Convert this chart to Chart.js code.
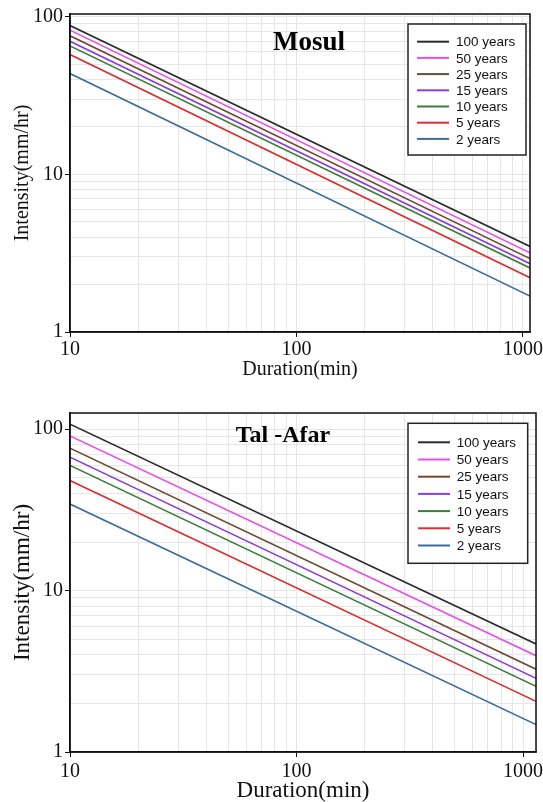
<!DOCTYPE html>
<html>
<head>
<meta charset="utf-8">
<title>IDF curves - Mosul and Tal-Afar</title>
<script src="https://cdn.jsdelivr.net/npm/chart.js@4.4.2/dist/chart.umd.min.js"></script>
<style>
  html, body { margin: 0; padding: 0; background: #fff; }
  canvas { position: absolute; left: 0; }
  #mosul { top: 0; }
  #talafar { top: 398px; }
</style>
</head>
<body>
<canvas id="mosul" width="543" height="392"></canvas>
<canvas id="talafar" width="543" height="404"></canvas>
<script>
// Return periods, in the order of the legend
const returnPeriods = ['100 years', '50 years', '25 years', '15 years', '10 years', '5 years', '2 years'];
const lineColors = ['#2b2b2b', '#e84ee8', '#6e4a32', '#8a3fd8', '#3b7d3b', '#d93030', '#3a6c9c'];

// Mosul : intensity (mm/hr) read at both ends of each line
const mosulDurations = [10, 1075];
const mosul100 = [87.8, 3.49];
const mosul50 = [82.2, 3.18];
const mosul25 = [75.6, 2.92];
const mosul15 = [69.8, 2.71];
const mosul10 = [65.2, 2.55];
const mosul5 = [57.5, 2.21];
const mosul2 = [43.6, 1.69];

// Tal-Afar
const talafarDurations = [10, 1141];
const talafar100 = [107.4, 4.67];
const talafar50 = [90.9, 3.95];
const talafar25 = [76.3, 3.26];
const talafar15 = [67.1, 2.86];
const talafar10 = [59.6, 2.55];
const talafar5 = [48.1, 2.06];
const talafar2 = [34.4, 1.48];

// labelled ticks
const xTickLabels = [10, 100, 1000];
const yTickLabels = [1, 10, 100];

const serif = "'Liberation Serif', 'Times New Roman', serif";
const sans = "'Liberation Sans', Arial, sans-serif";

// draws the frame, the title inside the plot and the boxed legend
const panelDecor = {
    id: 'panelDecor',
    afterDraw(chart, args, opts) {
        const ctx = chart.ctx;
        const a = chart.chartArea;
        ctx.save();

        // full frame round the plot
        ctx.strokeStyle = '#111';
        ctx.lineWidth = 1.5;
        ctx.strokeRect(a.left, a.top, a.right - a.left, a.bottom - a.top);

        // title
        ctx.fillStyle = '#000';
        ctx.font = 'bold ' + opts.titleSize + 'px ' + serif;
        ctx.textAlign = 'center';
        ctx.textBaseline = 'middle';
        ctx.fillText(opts.title, opts.titleX, opts.titleY);

        // legend
        const b = opts.legendBox;
        ctx.fillStyle = '#fff';
        ctx.fillRect(b.x, b.y, b.w, b.h);
        ctx.strokeStyle = '#222';
        ctx.lineWidth = 1.5;
        ctx.strokeRect(b.x, b.y, b.w, b.h);
        ctx.font = opts.legendFont + 'px ' + sans;
        ctx.textAlign = 'left';
        chart.data.datasets.forEach((ds, i) => {
            const y = b.firstRow + i * b.step;
            ctx.strokeStyle = ds.borderColor;
            ctx.lineWidth = 2;
            ctx.beginPath();
            ctx.moveTo(b.lineX0, y);
            ctx.lineTo(b.lineX1, y);
            ctx.stroke();
            ctx.fillStyle = '#111';
            ctx.fillText(ds.label, b.textX, y + 1);
        });
        ctx.restore();
    }
};

function isLabelled(v, list) {
    return list.some(t => Math.abs(t - v) < 1e-6);
}

// 1..9 times each power of ten inside the axis range, plus the range end
function logGridTicks(min, max) {
    const ticks = [];
    for (let e = Math.floor(Math.log10(min)); e <= Math.ceil(Math.log10(max)); e++) {
        for (let m = 1; m <= 9; m++) {
            const v = m * Math.pow(10, e);
            if (v >= min - 1e-9 && v < max - 1e-9) ticks.push({ value: v, major: m === 1 });
        }
    }
    ticks.push({ value: max, major: false });
    return ticks;
}

function buildChart(canvasId, setup) {
    const datasets = returnPeriods.map((label, i) => ({
        label: label,
        data: setup.durations.map((d, j) => ({ x: d, y: setup.series[i][j] })),
        borderColor: lineColors[i],
        borderWidth: 1.6,
        pointRadius: 0,
        fill: false,
        tension: 0
    }));

    return new Chart(document.getElementById(canvasId), {
        type: 'line',
        data: { datasets: datasets },
        plugins: [panelDecor],
        options: {
            responsive: false,
            animation: false,
            layout: { padding: setup.padding },
            plugins: {
                legend: { display: false },
                tooltip: { enabled: false },
                panelDecor: setup.decor
            },
            scales: {
                x: {
                    type: 'logarithmic',
                    min: 10,
                    max: setup.durations[setup.durations.length - 1],
                    afterBuildTicks: s => { s.ticks = logGridTicks(s.min, s.max); },
                    grid: {
                        color: '#e6e6e6',
                        lineWidth: 1,
                        tickLength: 5,
                        tickColor: c => isLabelled(c.tick.value, xTickLabels) ? '#111' : 'rgba(0,0,0,0)'
                    },
                    border: { color: '#111', width: 1.5 },
                    ticks: {
                        autoSkip: false,
                        maxRotation: 0,
                        padding: setup.xTickPad,
                        color: '#111',
                        font: { family: serif, size: 20 },
                        callback: v => isLabelled(v, xTickLabels) ? String(v) : ''
                    },
                    title: {
                        display: true,
                        text: 'Duration(min)',
                        color: '#111',
                        font: { family: serif, size: setup.axisTitleSize, lineHeight: 1 },
                        padding: { top: 0, bottom: 0 }
                    },
                    afterFit: s => { s.height = setup.xAxisHeight; }
                },
                y: {
                    type: 'logarithmic',
                    min: 1,
                    max: setup.yMax,
                    afterBuildTicks: s => { s.ticks = logGridTicks(s.min, s.max); },
                    grid: {
                        color: '#e6e6e6',
                        lineWidth: 1,
                        tickLength: 5,
                        tickColor: c => isLabelled(c.tick.value, yTickLabels) ? '#111' : 'rgba(0,0,0,0)'
                    },
                    border: { color: '#111', width: 1.5 },
                    ticks: {
                        autoSkip: false,
                        padding: 2,
                        color: '#111',
                        font: { family: serif, size: 20 },
                        callback: v => isLabelled(v, yTickLabels) ? String(v) : ''
                    },
                    title: {
                        display: true,
                        text: 'Intensity(mm/hr)',
                        color: '#111',
                        font: { family: serif, size: setup.axisTitleSize, lineHeight: 1 },
                        padding: { top: setup.yTitlePad, bottom: 0 }
                    },
                    afterFit: s => { s.width = 70; }
                }
            }
        }
    });
}

buildChart('mosul', {
    durations: mosulDurations,
    series: [mosul100, mosul50, mosul25, mosul15, mosul10, mosul5, mosul2],
    yMax: 104,
    padding: { top: 13, right: 13, left: 0, bottom: 12 },
    xAxisHeight: 48,
    xTickPad: 1,
    axisTitleSize: 20,
    yTitlePad: 13,
    decor: {
        title: 'Mosul', titleSize: 27, titleX: 309, titleY: 43,
        legendFont: 13.5,
        legendBox: { x: 408, y: 24, w: 118, h: 131, firstRow: 41.7, step: 16.2, lineX0: 417, lineX1: 449, textX: 456 }
    }
});

buildChart('talafar', {
    durations: talafarDurations,
    series: [talafar100, talafar50, talafar25, talafar15, talafar10, talafar5, talafar2],
    yMax: 126,
    padding: { top: 15, right: 7, left: 0, bottom: 0 },
    xAxisHeight: 50,
    xTickPad: 3,
    axisTitleSize: 23,
    yTitlePad: 11,
    decor: {
        title: 'Tal -Afar', titleSize: 24, titleX: 283, titleY: 38,
        legendFont: 13.5,
        legendBox: { x: 408, y: 25.3, w: 119.7, h: 140, firstRow: 44.3, step: 17.2, lineX0: 418, lineX1: 450, textX: 456.7 }
    }
});
</script>
</body>
</html>
